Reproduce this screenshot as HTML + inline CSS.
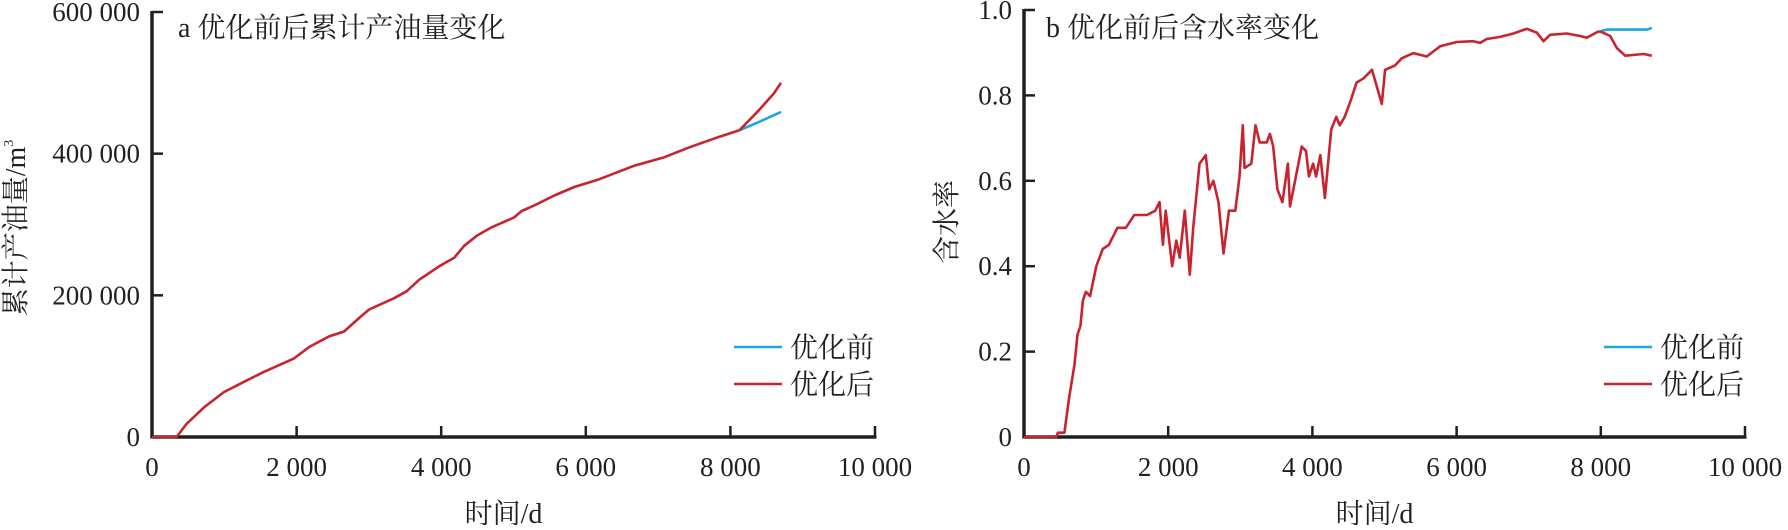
<!DOCTYPE html>
<html><head><meta charset="utf-8"><style>
body{margin:0;background:#fff;width:1788px;height:525px;overflow:hidden}
svg text{font-family:"Liberation Serif","Noto Serif CJK SC","Noto Sans CJK SC",serif;fill:#231f20}
</style></head><body>
<svg id="s" width="1788" height="525" viewBox="0 0 1788 525">
<g id="ga"></g>
<g id="gb"></g>
</svg>
<script>
const xTicks=[0,2000,4000,6000,8000,10000];
const xTickLabels=["0","2 000","4 000","6 000","8 000","10 000"];
const aYTicks=[0,200000,400000,600000];
const aYTickLabels=["0","200 000","400 000","600 000"];
const bYTicks=[0,0.2,0.4,0.6,0.8,1.0];
const bYTickLabels=["0","0.2","0.4","0.6","0.8","1.0"];
// chart a: days, cumulative oil (thousand m3)
const aDays=[0,340,477,720,997,1273,1550,1965,2173,2450,2657,2865,3003,3349,3522,3695,3972,4180,4318,4491,4699,5010,5114,5287,5564,5841,6187,6671,7087,7433,7848,8125];
const aOil=[0,0,18.5,42,63.5,78,92,111,127,142,149,168,180,196,205.7,222,241,253,270,284,296,310,319,327,341,353,364,383,395,409,424,433];
const aBeforeDays=[8125,8400,8700];
const aBeforeOil=[433,445,459];
const aAfterDays=[8125,8400,8600,8700];
const aAfterOil=[433,462,485,500];
// chart b: days, water cut
const bDays=[0,450,470,560,624,700,742,782,817,858,917,1003,1092,1178,1296,1412,1530,1705,1821,1880,1926,1966,2055,2113,2160,2230,2299,2347,2434,2522,2568,2627,2697,2767,2843,2931,2989,3035,3058,3152,3211,3269,3368,3410,3456,3515,3584,3660,3689,3747,3852,3911,3951,4010,4051,4109,4174,4261,4331,4378,4448,4535,4611,4710,4827,4962,5008,5146,5239,5401,5586,5771,6002,6233,6326,6418,6603,6788,6973,7112,7205,7297,7529,7714,7806,7945,7991];
const bCut=[0,0,0.01,0.01,0.09,0.17,0.24,0.26,0.32,0.34,0.33,0.40,0.44,0.45,0.49,0.49,0.52,0.52,0.53,0.55,0.45,0.53,0.40,0.46,0.42,0.53,0.38,0.49,0.64,0.66,0.58,0.60,0.55,0.43,0.53,0.53,0.61,0.73,0.63,0.64,0.73,0.69,0.69,0.71,0.68,0.58,0.55,0.64,0.54,0.59,0.68,0.67,0.61,0.64,0.61,0.66,0.56,0.72,0.75,0.73,0.75,0.79,0.83,0.84,0.86,0.78,0.86,0.87,0.887,0.899,0.891,0.915,0.925,0.927,0.923,0.932,0.937,0.945,0.956,0.947,0.927,0.942,0.945,0.939,0.935,0.948,0.95];
const bBeforeDays=[7991,8084,8639,8708];
const bBeforeCut=[0.95,0.954,0.954,0.958];
const bAfterDays=[7991,8130,8222,8338,8593,8708];
const bAfterCut=[0.95,0.939,0.911,0.893,0.897,0.893];

const NS="http://www.w3.org/2000/svg";
function mk(p,tag,at,txt){const e=document.createElementNS(NS,tag);for(const k in at)e.setAttribute(k,at[k]);if(txt!==undefined)e.textContent=txt;p.appendChild(e);return e;}
const RED="#c8242f",BLUE="#1da7e0";
function chart(g,o){
  const x=d=>o.x0+d*(o.x1-o.x0)/10000;
  const y=v=>o.y0-(v/o.ymax)*(o.y0-o.y1);
  let e;
  e=mk(g,'line',{x1:o.x0,y1:o.y0,x2:o.x1+1.5,y2:o.y0,stroke:'#231f20','stroke-width':3.5});
  
  e=mk(g,'line',{x1:o.x0,y1:o.y0+1.5,x2:o.x0,y2:o.y1-1,stroke:'#231f20','stroke-width':3.5});
  
  xTicks.forEach((t,i)=>{
    e=mk(g,'line',{x1:x(t),y1:o.y0,x2:x(t),y2:o.y0-11,stroke:'#231f20','stroke-width':2.5});
    
    e=mk(g,'text',{x:x(t),y:o.y0+39,'text-anchor':'middle','font-size':27},xTickLabels[i]);
    
  });
  o.yt.forEach((t,i)=>{
    e=mk(g,'line',{x1:o.x0,y1:y(t),x2:o.x0+11,y2:y(t),stroke:'#231f20','stroke-width':2.5});
    
    e=mk(g,'text',{x:o.x0-12,y:y(t)+9,'text-anchor':'end','font-size':27},o.yl[i]);
    
  });
  const line=(ds,vs,c,name)=>{
    const pts=ds.map((d,i)=>x(d).toFixed(1)+','+y(vs[i]*o.mul).toFixed(1)).join(' ');
    const p=mk(g,'polyline',{points:pts,fill:'none',stroke:c,'stroke-width':2.6,'stroke-linejoin':'round'});
    
  };
  line(o.bd,o.bv,BLUE,'series-before');
  line(o.ad,o.av,RED,'series-after');
  line(o.md,o.mv,RED,'series-history');
  e=mk(g,'text',{x:o.tx,y:37,'font-size':28},o.title);
  
  e=mk(g,'text',{x:(o.x0+o.x1)/2-10,y:523,'text-anchor':'middle','font-size':28},'时间/d');
  
  e=mk(g,'text',{x:o.ylx,y:o.yly,'text-anchor':'middle','font-size':28,transform:`rotate(-90 ${o.ylx} ${o.yly})`});
  
  e.textContent=o.ylab;
  if(o.sup){const s=mk(e,'tspan',{'font-size':14,dy:-12},'3');}
  const lx=o.lx;
  [[BLUE,'优化前',347],[RED,'优化后',384]].forEach(([c,t,ly])=>{
    const lg=mk(g,'g',{});
    
    mk(lg,'line',{x1:lx,y1:ly,x2:lx+48,y2:ly,stroke:c,'stroke-width':2.6});
    mk(lg,'text',{x:lx+56,y:ly+10,'font-size':28},t);
  });
}
chart(document.getElementById('ga'),{x0:152,x1:875,y0:437,y1:12,ymax:600000,mul:1000,yt:aYTicks,yl:aYTickLabels,
  md:aDays,mv:aOil,bd:aBeforeDays,bv:aBeforeOil,ad:aAfterDays,av:aAfterOil,title:'a 优化前后累计产油量变化',tx:178,
  ylab:'累计产油量/m',sup:true,ylx:25,yly:228,lx:734});
chart(document.getElementById('gb'),{x0:1024,x1:1745,y0:437,y1:10,ymax:1,mul:1,yt:bYTicks,yl:bYTickLabels,
  md:bDays,mv:bCut,bd:bBeforeDays,bv:bBeforeCut,ad:bAfterDays,av:bAfterCut,title:'b 优化前后含水率变化',tx:1046,
  ylab:'含水率',sup:false,ylx:956,yly:222,lx:1604});
</script>
</body></html>
